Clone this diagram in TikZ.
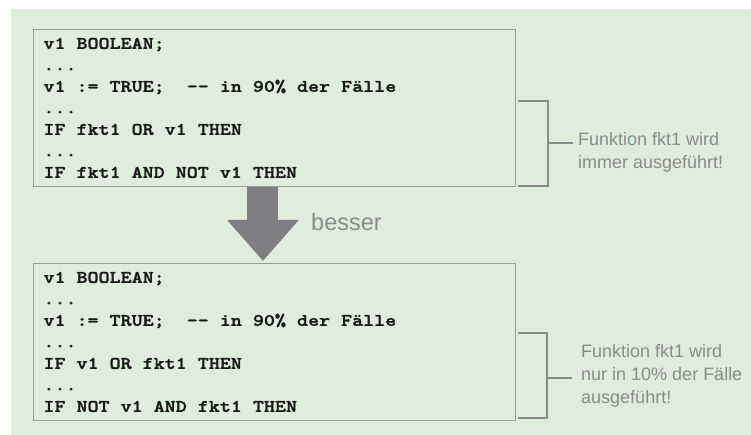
\documentclass[tikz,border=0pt]{standalone}
\usepackage{fontspec}
\setmainfont{Liberation Sans}
\newfontfamily\codefont[FakeStretch=1.2, FakeBold=1.6]{lmmonolt10-bold.otf}
\usetikzlibrary{arrows.meta}

\definecolor{bggreen}{HTML}{DFEEDC}
\definecolor{framegray}{HTML}{9A9A9A}
\definecolor{notegray}{HTML}{8A8A8C}
\definecolor{arrowgray}{HTML}{7E7E83}

\begin{document}
\begin{tikzpicture}[x=1pt, y=-1pt,
    codebox/.style={draw=framegray, line width=0.9pt, anchor=north west,
        minimum width=482pt, minimum height=157pt, inner xsep=10pt, inner ysep=0pt,
        text width=462pt, align=flush left, text=black!90,
        font=\fontsize{17.5}{21.5}\selectfont\codefont},
    note/.style={anchor=west, inner sep=0pt, align=left, text=notegray,
        font=\fontsize{18}{22.75}\selectfont},
    bracket/.style={draw=notegray, line width=2.6pt},
    tick/.style={draw=notegray, line width=2pt},
    bigarrow/.style={draw=arrowgray, line width=31pt,
        -{Triangle[width=69pt,length=41pt]}, shorten >=2pt}
    ]

    \useasboundingbox (0,0) rectangle (751,435);
    \fill[bggreen] (11,9) rectangle (751,435);

    % Code before
    \node[codebox] (code1) at (33,29) {%
        v1 BOOLEAN;\\
        ...\\
        v1 := TRUE;\ \ -- in 90\% der Fälle\\
        ...\\
        IF fkt1 OR v1 THEN\\
        ...\\
        IF fkt1 AND NOT v1 THEN};

    % Code after
    \node[codebox] (code2) at (33,263) {%
        v1 BOOLEAN;\\
        ...\\
        v1 := TRUE;\ \ -- in 90\% der Fälle\\
        ...\\
        IF v1 OR fkt1 THEN\\
        ...\\
        IF NOT v1 AND fkt1 THEN};

    % Arrow
    \draw[bigarrow] ([xshift=-11.5pt]code1.south) -- ([xshift=-11.5pt]code2.north);
    \node[note, font=\fontsize{23.5}{28}\selectfont] (better) at (311,222) {besser};

    % Notes
    \node[note] (note1) at (578,152) {Funktion fkt1 wird\\immer ausgeführt!};
    \node[note] (note2) at (581,376) {Funktion fkt1 wird\\nur in 10\% der Fälle\\ausgeführt!};

    % Brackets
    \draw[bracket] (518,101) -- (548,101) -- (548,186) -- (518,186);
    \coordinate (b1) at (548,143);
    \draw[tick] (b1) -- ([xshift=-5pt]b1 -| note1.west);
    \draw[bracket] (518,333) -- (547,333) -- (547,418) -- (518,418);
    \coordinate (b2) at (547,378);
    \draw[tick] (b2) -- ([xshift=-9pt]b2 -| note2.west);
\end{tikzpicture}
\end{document}
